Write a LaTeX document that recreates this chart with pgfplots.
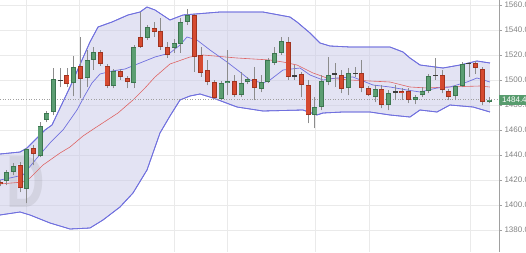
\documentclass[border=0pt]{standalone}
\usepackage{pgfplots}
\pgfplotsset{compat=1.18}
\usepackage{pgfplotstable}
\usepgfplotslibrary{fillbetween}
\usepackage{fontspec}
\setmainfont{Liberation Sans}

\definecolor{gfill}{RGB}{92,158,114}
\definecolor{gborder}{RGB}{60,118,80}
\definecolor{rfill}{RGB}{214,74,48}
\definecolor{rborder}{RGB}{160,52,32}
\definecolor{wickgray}{RGB}{140,140,140}
\definecolor{dojicol}{RGB}{60,60,60}
\definecolor{bandblue}{RGB}{112,112,222}
\definecolor{bandfill}{RGB}{200,200,232}
\definecolor{maRed}{RGB}{222,100,100}
\definecolor{gridgray}{RGB}{234,234,234}
\definecolor{labelgray}{RGB}{130,130,130}
\definecolor{axisgray}{RGB}{160,160,160}
\definecolor{pricegreen}{RGB}{88,156,110}

\pgfplotsset{candle/.style={only marks, mark=*, mark size=0pt, mark options={draw=none, fill=none},
  error bars/.cd, y dir=plus, y explicit, error mark=none}}

\pgfplotstableread{
x o h l c
1 1419.2 1428.0 1416.0 1426.4
2 1426.4 1433.6 1424.0 1431.2
4 1412.8 1445.6 1401.6 1444.8
6 1439.2 1466.4 1438.4 1463.2
7 1468.0 1475.2 1466.4 1473.6
8 1474.4 1509.6 1472.0 1500.8
11 1497.6 1519.2 1487.2 1510.4
13 1501.6 1524.0 1494.4 1516.0
14 1516.0 1526.4 1508.0 1522.4
17 1495.2 1508.8 1493.6 1507.2
20 1497.6 1528.0 1493.6 1526.4
22 1533.6 1544.0 1532.0 1542.4
26 1525.6 1532.8 1521.6 1529.6
27 1528.8 1549.6 1521.6 1546.4
28 1546.4 1556.8 1544.0 1552.0
33 1484.8 1499.2 1484.0 1497.6
34 1497.6 1524.0 1488.0 1499.2
36 1488.0 1506.4 1486.4 1497.6
37 1498.4 1502.4 1496.8 1500.8
39 1492.8 1504.0 1490.4 1498.4
40 1498.4 1517.6 1497.6 1516.0
41 1513.6 1526.4 1512.0 1521.6
42 1521.6 1534.4 1520.0 1531.2
47 1472.0 1486.4 1461.6 1478.4
48 1478.4 1504.0 1476.0 1499.2
49 1498.4 1518.4 1496.0 1504.0
52 1493.6 1509.6 1488.0 1505.6
56 1486.4 1496.0 1482.4 1492.8
58 1480.0 1492.0 1476.0 1489.6
62 1484.0 1488.0 1480.8 1486.4
63 1488.0 1494.4 1486.4 1491.2
64 1491.2 1504.8 1489.6 1503.2
68 1487.2 1496.0 1484.0 1495.2
69 1495.2 1514.4 1494.4 1512.8
73 1482.4 1486.4 1481.6 1484.4
}\greentab

\pgfplotstableread{
x o h l c
0 1418.4 1420.0 1415.2 1416.8
3 1432.0 1434.4 1410.4 1413.6
5 1445.6 1448.0 1432.0 1440.8
10 1504.0 1509.6 1494.4 1496.8
12 1511.2 1534.4 1485.6 1500.8
15 1522.4 1524.0 1511.2 1512.8
16 1511.2 1512.8 1493.6 1495.2
18 1507.2 1508.8 1500.0 1502.4
19 1501.6 1503.2 1493.6 1498.4
21 1534.4 1554.4 1525.6 1526.4
23 1541.6 1546.4 1534.4 1538.4
24 1539.2 1549.6 1524.0 1526.4
25 1526.4 1530.4 1517.6 1520.0
29 1552.0 1552.8 1506.4 1518.4
30 1520.0 1526.4 1502.4 1505.6
31 1508.0 1516.0 1496.0 1498.4
32 1498.4 1500.0 1484.8 1485.6
35 1499.2 1504.0 1486.4 1488.0
38 1500.8 1510.4 1484.0 1493.6
43 1530.4 1534.4 1500.0 1502.4
45 1504.8 1506.4 1486.4 1496.0
46 1496.0 1500.0 1465.6 1472.0
51 1504.0 1508.0 1489.6 1492.8
54 1505.6 1516.0 1490.4 1493.6
55 1493.6 1495.2 1487.2 1488.0
57 1492.8 1496.0 1477.6 1480.0
60 1491.2 1493.6 1484.0 1489.6
61 1491.2 1493.6 1481.6 1484.0
66 1504.0 1508.0 1489.6 1492.0
67 1491.2 1492.8 1484.0 1486.4
71 1513.6 1515.2 1504.8 1509.6
72 1508.8 1510.4 1480.0 1482.4
}\redtab

\pgfplotstableread{
x o h l c
9 1500.0 1509.6 1494.4 1499.2
44 1504.0 1512.0 1500.0 1502.4
50 1505.6 1513.6 1494.4 1504.0
53 1505.6 1510.4 1502.4 1504.8
59 1491.2 1496.0 1484.0 1489.6
65 1504.0 1517.6 1500.0 1503.2
70 1513.6 1514.4 1502.4 1512.8
}\dojitab

\pgfplotstableread{
x y
0 1440.8
2.99 1442.4
4.03 1445.6
5.52 1453.6
6.72 1460.0
7.76 1464.0
10.45 1494.4
12.24 1516.0
13.43 1530.4
14.63 1542.4
16.72 1546.4
19.10 1552.0
20.90 1554.4
21.94 1558.4
23.13 1556.0
25.37 1548.0
27.31 1552.0
32.84 1554.4
39.25 1554.4
43.28 1550.4
44.33 1546.4
46.27 1537.6
47.76 1529.6
49.25 1527.2
52.24 1526.4
58.21 1526.4
60.15 1522.4
61.19 1517.6
62.69 1512.0
66.12 1509.6
68.66 1512.0
71.19 1515.2
73.13 1513.6
}\uppertab

\pgfplotstableread{
x y
0 1392.0
2.99 1394.4
4.48 1392.0
7.46 1385.6
10.45 1380.8
13.43 1381.6
15.37 1388.0
17.91 1398.4
19.85 1409.6
21.94 1428.0
23.88 1457.6
25.37 1471.2
26.87 1484.0
28.36 1487.2
29.85 1488.8
31.79 1485.6
35.37 1478.4
39.25 1475.2
45.22 1476.0
47.31 1472.0
48.21 1473.6
51.19 1474.4
55.22 1474.4
58.21 1472.0
61.19 1470.4
62.69 1476.0
65.22 1474.4
67.16 1480.0
70.60 1478.4
73.13 1474.4
}\lowertab

\pgfplotstableread{
x y
0 1420.0
1.49 1421.6
3.43 1424.0
5.52 1437.6
7.46 1449.6
9.40 1460.0
11.49 1476.0
12.69 1488.0
13.73 1497.6
14.93 1504.8
16.72 1507.2
18.66 1508.8
20.15 1512.0
23.13 1518.4
25.37 1521.6
26.87 1528.0
27.91 1534.4
29.40 1532.0
31.34 1524.0
33.88 1514.4
35.82 1506.4
37.31 1500.0
39.25 1497.6
40.30 1500.0
42.24 1508.0
44.78 1509.6
46.27 1504.0
48.21 1500.0
50.30 1501.6
52.69 1502.4
55.67 1496.0
58.21 1494.4
60.75 1492.0
62.69 1490.4
65.22 1493.6
67.16 1494.4
69.70 1498.4
71.19 1501.6
73.13 1498.4
}\fasttab

\pgfplotstableread{
x y
0 1416.8
3.43 1418.4
4.48 1421.6
6.42 1432.0
8.96 1441.6
10.45 1446.4
12.39 1455.2
14.18 1461.6
17.61 1473.6
19.85 1484.0
21.64 1493.6
23.13 1502.4
25.37 1512.8
28.36 1518.4
30.30 1520.0
35.37 1517.6
40.30 1516.0
42.24 1514.4
44.33 1512.0
46.72 1505.6
48.81 1501.6
52.24 1500.0
58.21 1498.4
61.19 1494.4
63.73 1493.6
66.72 1494.4
71.64 1495.2
73.13 1494.4
}\slowtab

\begin{document}
\begin{tikzpicture}
\begin{axis}[
  at={(0,0)}, anchor=south west,
  width=499pt, height=252pt, scale only axis,
  xmin=0, xmax=74.48, ymin=1362.4, ymax=1564,
  axis line style={draw=none},
  xtick={3.88,11.79,25.97,33.88,47.01,55.07,70.15},
  xticklabels={},
  x tick style={draw=none},
  ytick={1380,1400,...,1560},
  ytick pos=right, yticklabel pos=right,
  tick align=outside,
  major tick length=3pt,
  y tick style={draw=axisgray, line width=0.5pt},
  grid=major, grid style={draw=gridgray, line width=0.6pt},
  yticklabel style={font=\fontsize{8}{9}\selectfont, text=labelgray, xshift=-1pt},
  y tick label style={/pgf/number format/.cd, fixed, fixed zerofill, precision=1, 1000 sep={}, assume math mode=true},
]
% Bollinger band
\addplot[draw=bandblue, line width=0.8pt, name path=up] table[x=x,y=y] \uppertab;
\addplot[draw=bandblue, line width=0.8pt, name path=lo] table[x=x,y=y] \lowertab;
\addplot[fill=bandfill, fill opacity=0.5, draw=none] fill between[of=up and lo];
\addplot[draw=bandblue, line width=0.8pt] table[x=x,y=y] \uppertab;
\addplot[draw=bandblue, line width=0.8pt] table[x=x,y=y] \lowertab;
% watermark
\node[text=gray, opacity=0.16, font=\fontsize{74}{74}\selectfont\bfseries, xscale=0.72] at (axis cs:3.9,1418) {D};
% moving averages
\addplot[draw=maRed, line width=0.6pt] table[x=x,y=y] \slowtab;
\addplot[draw=bandblue, line width=0.7pt] table[x=x,y=y] \fasttab;
% current price line
\draw[axisgray, dotted, line width=0.6pt] (axis cs:0,1484.4) -- (axis cs:74.48,1484.4);
\coordinate (pl) at (axis cs:74.48,1484.4);
% wicks
\addplot[candle, error bar style={wickgray, line width=0.9pt}] table[x=x, y=l, y error expr=\thisrow{h}-\thisrow{l}] \greentab;
\addplot[candle, error bar style={wickgray, line width=0.9pt}] table[x=x, y=l, y error expr=\thisrow{h}-\thisrow{l}] \redtab;
\addplot[candle, error bar style={wickgray, line width=0.9pt}] table[x=x, y=l, y error expr=\thisrow{h}-\thisrow{l}] \dojitab;
% bodies: green
\addplot[candle, error bar style={gborder, line width=5pt}] table[x=x, y=o, y error expr=\thisrow{c}-\thisrow{o}] \greentab;
\addplot[candle, error bar style={gfill, line width=3.4pt}] table[x=x, y expr=\thisrow{o}+0.5, y error expr=\thisrow{c}-\thisrow{o}-1.0] \greentab;
% bodies: red
\addplot[candle, error bar style={rborder, line width=5pt}] table[x=x, y=c, y error expr=\thisrow{o}-\thisrow{c}] \redtab;
\addplot[candle, error bar style={rfill, line width=3.4pt}] table[x=x, y expr=\thisrow{c}+0.5, y error expr=\thisrow{o}-\thisrow{c}-1.0] \redtab;
% bodies: doji
\addplot[candle, error bar style={dojicol, line width=5pt}] table[x=x, y=c, y error expr=\thisrow{o}-\thisrow{c}] \dojitab;
\end{axis}
\draw[axisgray, line width=0.6pt] (499pt,0) -- (499pt,252pt);
\node[anchor=west, fill=pricegreen, text=white, font=\fontsize{8}{9}\selectfont, inner xsep=3pt, inner ysep=0pt, minimum height=10pt] at (pl) {1484.4};
\pgfresetboundingbox
\useasboundingbox (0,0) rectangle (526pt,252pt);
\end{tikzpicture}
\end{document}
